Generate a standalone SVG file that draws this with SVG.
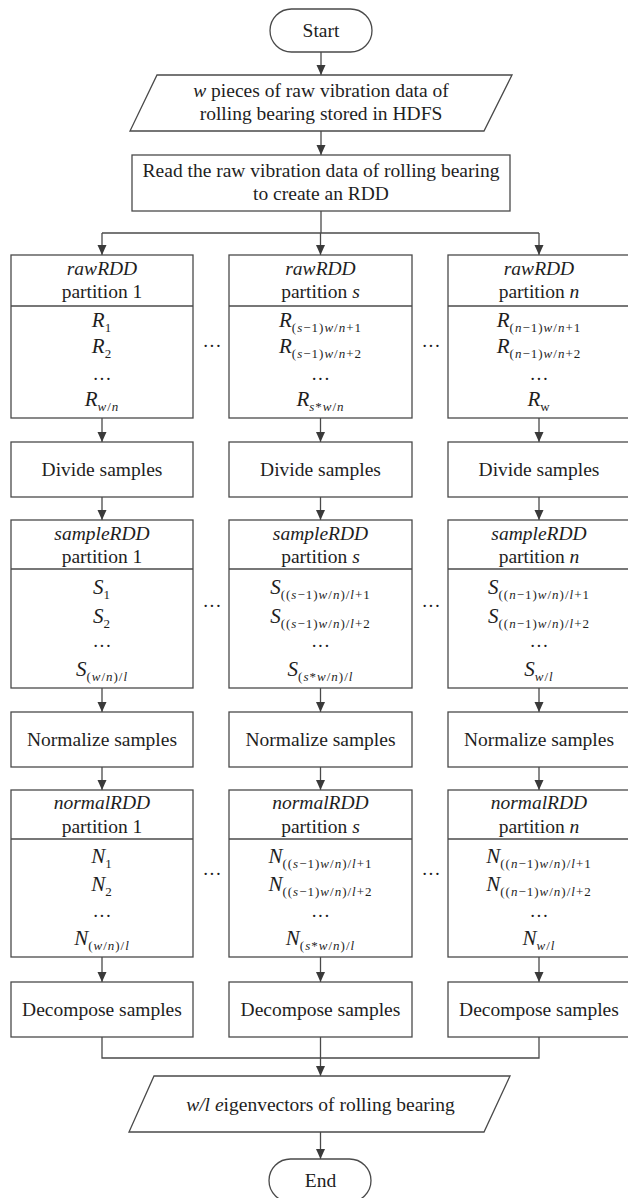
<svg xmlns="http://www.w3.org/2000/svg" width="628" height="1198" viewBox="0 0 628 1198">
<defs>
<marker id="ah" markerUnits="userSpaceOnUse" markerWidth="10" markerHeight="10" refX="10" refY="5" orient="auto">
<path d="M0,0.5 L10,5 L0,9.5 z" fill="#3a3a3a"/>
</marker>
<style>
.b{fill:#fff;stroke:#4a4a4a;stroke-width:1.3}
.c{fill:none;stroke:#4a4a4a;stroke-width:1.3}
.a{fill:none;stroke:#4a4a4a;stroke-width:1.3;marker-end:url(#ah)}
text{font-family:"Liberation Serif","Times New Roman",serif;font-size:19.5px;fill:#1e1e1e;text-anchor:middle}
.i{font-style:italic}
.v{font-style:italic;font-size:21px}
.s{font-style:normal;font-size:13px;letter-spacing:1px}
.d{font-size:19px;font-style:normal}
</style>
</defs>
<rect width="628" height="1198" fill="#fff"/>

<g id="connectors">
<line class="a" x1="321" y1="52" x2="321" y2="75"/>
<line class="a" x1="321" y1="131" x2="321" y2="155"/>
<polyline class="c" points="321,211 321,233"/>
<line class="c" x1="102" y1="233" x2="539" y2="233"/>
<line class="a" x1="102" y1="233" x2="102" y2="255"/>
<line class="a" x1="320.5" y1="233" x2="320.5" y2="255"/>
<line class="a" x1="539" y1="233" x2="539" y2="255"/>
<line class="a" x1="102" y1="418" x2="102" y2="442"/>
<line class="a" x1="320.5" y1="418" x2="320.5" y2="442"/>
<line class="a" x1="539" y1="418" x2="539" y2="442"/>
<line class="a" x1="102" y1="497" x2="102" y2="520"/>
<line class="a" x1="320.5" y1="497" x2="320.5" y2="520"/>
<line class="a" x1="539" y1="497" x2="539" y2="520"/>
<line class="a" x1="102" y1="688" x2="102" y2="712"/>
<line class="a" x1="320.5" y1="688" x2="320.5" y2="712"/>
<line class="a" x1="539" y1="688" x2="539" y2="712"/>
<line class="a" x1="102" y1="767" x2="102" y2="790"/>
<line class="a" x1="320.5" y1="767" x2="320.5" y2="790"/>
<line class="a" x1="539" y1="767" x2="539" y2="790"/>
<line class="a" x1="102" y1="957" x2="102" y2="982"/>
<line class="a" x1="320.5" y1="957" x2="320.5" y2="982"/>
<line class="a" x1="539" y1="957" x2="539" y2="982"/>
<polyline class="c" points="102,1037 102,1058 539,1058 539,1037"/>
<line class="a" x1="320.5" y1="1037" x2="320.5" y2="1076"/>
<line class="a" x1="320.5" y1="1132" x2="320.5" y2="1159"/>
</g>

<g id="start">
<rect class="b" x="270" y="9" width="102" height="43" rx="21.5"/>
<text x="321" y="37">Start</text>
</g>

<g id="input">
<polygon class="b" points="157,75 512,75 484,131 130,131"/>
<text x="321" y="97"><tspan class="i">w</tspan> pieces of raw vibration data of</text>
<text x="321" y="120">rolling bearing stored in HDFS</text>
</g>

<g id="read">
<rect class="b" x="132" y="155" width="378" height="56"/>
<text x="321" y="177">Read the raw vibration data of rolling bearing</text>
<text x="321" y="200">to create an RDD</text>
</g>

<!-- rawRDD partitions -->
<g id="raw1">
<rect class="b" x="11" y="255" width="182" height="163"/>
<line class="c" x1="11" y1="306" x2="193" y2="306"/>
<text x="102" y="275" class="i">rawRDD</text>
<text x="102" y="298">partition 1</text>
<text x="102" y="327" class="v">R<tspan class="s" dy="5">1</tspan></text>
<text x="102" y="353" class="v">R<tspan class="s" dy="5">2</tspan></text>
<text x="102" y="385" class="d">···</text>
<text x="102" y="406" class="v">R<tspan class="s" dy="5"><tspan class="i">w</tspan>/<tspan class="i">n</tspan></tspan></text>
</g>
<g id="raws">
<rect class="b" x="229" y="255" width="183" height="163"/>
<line class="c" x1="229" y1="306" x2="412" y2="306"/>
<text x="320.5" y="275" class="i">rawRDD</text>
<text x="320.5" y="298">partition <tspan class="i">s</tspan></text>
<text x="320.5" y="327" class="v">R<tspan class="s" dy="5">(<tspan class="i">s</tspan>−1)<tspan class="i">w</tspan>/<tspan class="i">n</tspan>+1</tspan></text>
<text x="320.5" y="353" class="v">R<tspan class="s" dy="5">(<tspan class="i">s</tspan>−1)<tspan class="i">w</tspan>/<tspan class="i">n</tspan>+2</tspan></text>
<text x="320.5" y="385" class="d">···</text>
<text x="320.5" y="406" class="v">R<tspan class="s" dy="5"><tspan class="i">s</tspan>*<tspan class="i">w</tspan>/<tspan class="i">n</tspan></tspan></text>
</g>
<g id="rawn">
<rect class="b" x="448" y="255" width="183" height="163"/>
<line class="c" x1="448" y1="306" x2="631" y2="306"/>
<text x="539" y="275" class="i">rawRDD</text>
<text x="539" y="298">partition <tspan class="i">n</tspan></text>
<text x="539" y="327" class="v">R<tspan class="s" dy="5">(<tspan class="i">n</tspan>−1)<tspan class="i">w</tspan>/<tspan class="i">n</tspan>+1</tspan></text>
<text x="539" y="353" class="v">R<tspan class="s" dy="5">(<tspan class="i">n</tspan>−1)<tspan class="i">w</tspan>/<tspan class="i">n</tspan>+2</tspan></text>
<text x="539" y="385" class="d">···</text>
<text x="539" y="406" class="v">R<tspan class="s i" dy="5">w</tspan></text>
</g>
<text x="212" y="352" class="d">···</text>
<text x="431" y="352" class="d">···</text>

<!-- Divide -->
<g id="div1"><rect class="b" x="11" y="442" width="182" height="55"/><text x="102" y="476">Divide samples</text></g>
<g id="divs"><rect class="b" x="229" y="442" width="183" height="55"/><text x="320.5" y="476">Divide samples</text></g>
<g id="divn"><rect class="b" x="448" y="442" width="183" height="55"/><text x="539" y="476">Divide samples</text></g>

<!-- sampleRDD -->
<g id="samp1">
<rect class="b" x="11" y="520" width="182" height="168"/>
<line class="c" x1="11" y1="569" x2="193" y2="569"/>
<text x="102" y="540" class="i">sampleRDD</text>
<text x="102" y="563">partition 1</text>
<text x="102" y="594" class="v">S<tspan class="s" dy="5">1</tspan></text>
<text x="102" y="623" class="v">S<tspan class="s" dy="5">2</tspan></text>
<text x="102" y="652" class="d">···</text>
<text x="102" y="676" class="v">S<tspan class="s" dy="5">(<tspan class="i">w</tspan>/<tspan class="i">n</tspan>)/<tspan class="i">l</tspan></tspan></text>
</g>
<g id="samps">
<rect class="b" x="229" y="520" width="183" height="168"/>
<line class="c" x1="229" y1="569" x2="412" y2="569"/>
<text x="320.5" y="540" class="i">sampleRDD</text>
<text x="320.5" y="563">partition <tspan class="i">s</tspan></text>
<text x="320.5" y="594" class="v">S<tspan class="s" dy="5">((<tspan class="i">s</tspan>−1)<tspan class="i">w</tspan>/<tspan class="i">n</tspan>)/<tspan class="i">l</tspan>+1</tspan></text>
<text x="320.5" y="623" class="v">S<tspan class="s" dy="5">((<tspan class="i">s</tspan>−1)<tspan class="i">w</tspan>/<tspan class="i">n</tspan>)/<tspan class="i">l</tspan>+2</tspan></text>
<text x="320.5" y="652" class="d">···</text>
<text x="320.5" y="676" class="v">S<tspan class="s" dy="5">(<tspan class="i">s</tspan>*<tspan class="i">w</tspan>/<tspan class="i">n</tspan>)/<tspan class="i">l</tspan></tspan></text>
</g>
<g id="sampn">
<rect class="b" x="448" y="520" width="183" height="168"/>
<line class="c" x1="448" y1="569" x2="631" y2="569"/>
<text x="539" y="540" class="i">sampleRDD</text>
<text x="539" y="563">partition <tspan class="i">n</tspan></text>
<text x="539" y="594" class="v">S<tspan class="s" dy="5">((<tspan class="i">n</tspan>−1)<tspan class="i">w</tspan>/<tspan class="i">n</tspan>)/<tspan class="i">l</tspan>+1</tspan></text>
<text x="539" y="623" class="v">S<tspan class="s" dy="5">((<tspan class="i">n</tspan>−1)<tspan class="i">w</tspan>/<tspan class="i">n</tspan>)/<tspan class="i">l</tspan>+2</tspan></text>
<text x="539" y="652" class="d">···</text>
<text x="539" y="676" class="v">S<tspan class="s" dy="5"><tspan class="i">w</tspan>/<tspan class="i">l</tspan></tspan></text>
</g>
<text x="212" y="612" class="d">···</text>
<text x="431" y="612" class="d">···</text>

<!-- Normalize -->
<g id="norm1"><rect class="b" x="11" y="712" width="182" height="55"/><text x="102" y="746">Normalize samples</text></g>
<g id="norms"><rect class="b" x="229" y="712" width="183" height="55"/><text x="320.5" y="746">Normalize samples</text></g>
<g id="normn"><rect class="b" x="448" y="712" width="183" height="55"/><text x="539" y="746">Normalize samples</text></g>

<!-- normalRDD -->
<g id="nrd1">
<rect class="b" x="11" y="790" width="182" height="167"/>
<line class="c" x1="11" y1="839" x2="193" y2="839"/>
<text x="102" y="809" class="i">normalRDD</text>
<text x="102" y="833">partition 1</text>
<text x="102" y="863" class="v">N<tspan class="s" dy="5">1</tspan></text>
<text x="102" y="891" class="v">N<tspan class="s" dy="5">2</tspan></text>
<text x="102" y="922" class="d">···</text>
<text x="102" y="945" class="v">N<tspan class="s" dy="5">(<tspan class="i">w</tspan>/<tspan class="i">n</tspan>)/<tspan class="i">l</tspan></tspan></text>
</g>
<g id="nrds">
<rect class="b" x="229" y="790" width="183" height="167"/>
<line class="c" x1="229" y1="839" x2="412" y2="839"/>
<text x="320.5" y="809" class="i">normalRDD</text>
<text x="320.5" y="833">partition <tspan class="i">s</tspan></text>
<text x="320.5" y="863" class="v">N<tspan class="s" dy="5">((<tspan class="i">s</tspan>−1)<tspan class="i">w</tspan>/<tspan class="i">n</tspan>)/<tspan class="i">l</tspan>+1</tspan></text>
<text x="320.5" y="891" class="v">N<tspan class="s" dy="5">((<tspan class="i">s</tspan>−1)<tspan class="i">w</tspan>/<tspan class="i">n</tspan>)/<tspan class="i">l</tspan>+2</tspan></text>
<text x="320.5" y="922" class="d">···</text>
<text x="320.5" y="945" class="v">N<tspan class="s" dy="5">(<tspan class="i">s</tspan>*<tspan class="i">w</tspan>/<tspan class="i">n</tspan>)/<tspan class="i">l</tspan></tspan></text>
</g>
<g id="nrdn">
<rect class="b" x="448" y="790" width="183" height="167"/>
<line class="c" x1="448" y1="839" x2="631" y2="839"/>
<text x="539" y="809" class="i">normalRDD</text>
<text x="539" y="833">partition <tspan class="i">n</tspan></text>
<text x="539" y="863" class="v">N<tspan class="s" dy="5">((<tspan class="i">n</tspan>−1)<tspan class="i">w</tspan>/<tspan class="i">n</tspan>)/<tspan class="i">l</tspan>+1</tspan></text>
<text x="539" y="891" class="v">N<tspan class="s" dy="5">((<tspan class="i">n</tspan>−1)<tspan class="i">w</tspan>/<tspan class="i">n</tspan>)/<tspan class="i">l</tspan>+2</tspan></text>
<text x="539" y="922" class="d">···</text>
<text x="539" y="945" class="v">N<tspan class="s" dy="5"><tspan class="i">w</tspan>/<tspan class="i">l</tspan></tspan></text>
</g>
<text x="212" y="880" class="d">···</text>
<text x="431" y="880" class="d">···</text>

<!-- Decompose -->
<g id="dec1"><rect class="b" x="11" y="982" width="182" height="55"/><text x="102" y="1016">Decompose samples</text></g>
<g id="decs"><rect class="b" x="229" y="982" width="183" height="55"/><text x="320.5" y="1016">Decompose samples</text></g>
<g id="decn"><rect class="b" x="448" y="982" width="183" height="55"/><text x="539" y="1016">Decompose samples</text></g>

<g id="output">
<polygon class="b" points="154,1076 510,1076 484,1132 129,1132"/>
<text x="320.5" y="1111"><tspan class="i">w/l e</tspan>igenvectors of rolling bearing</text>
</g>

<g id="end">
<rect class="b" x="269" y="1159" width="102" height="43" rx="21.5"/>
<text x="320.5" y="1187">End</text>
</g>
</svg>
